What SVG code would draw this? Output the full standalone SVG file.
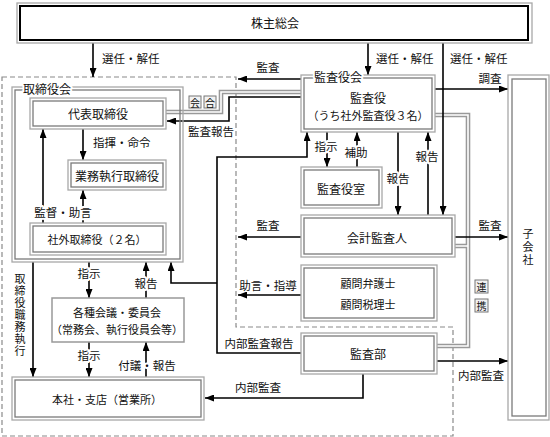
<svg xmlns="http://www.w3.org/2000/svg" width="550" height="437" viewBox="0 0 550 437">
<defs>
<style>
.bo{fill:none;stroke:#a8a8a8;stroke-width:1.3}
.bi{fill:none;stroke:#7a7a7a;stroke-width:1.3}
.ln{fill:none;stroke:#000;stroke-width:1.6}
.dash{fill:none;stroke:#8a8a8a;stroke-width:1.2;stroke-dasharray:5 3}
.g1{fill:none;stroke:#999;stroke-width:4.6}
.g2{fill:none;stroke:#fff;stroke-width:1.6}
text{font-family:"Noto Sans CJK JP","Noto Sans CJK SC",sans-serif;font-size:12px;fill:#111;text-anchor:middle;dominant-baseline:central}
.s{font-size:11px}
.l{font-size:11.5px}
.st{text-anchor:start}
.h{stroke:#fff;stroke-width:4;stroke-linejoin:round;paint-order:stroke}
.bx{fill:#f2f2f2;stroke:#777;stroke-width:1}
.bt{font-size:10px}
.v{writing-mode:vertical-rl;text-orientation:upright}
</style>
<marker id="ah" viewBox="0 0 9 7" refX="9" refY="3.5" markerWidth="9" markerHeight="7" markerUnits="userSpaceOnUse" orient="auto"><path d="M0,0 L9,3.5 L0,7 z" fill="#000"/></marker>
</defs>
<rect width="550" height="437" fill="#fff"/>

<path class="dash" d="M2,77 H236 V327 H453 V436 H2 Z"/>

<g id="connectors">
<path class="g1" d="M166,112 H221 V92 H301"/>
<path class="g2" d="M166,112 H221 V92 H301"/>
<path class="g1" d="M435,115 H468 V346 H437 M455,246 H468"/>
<path class="g2" d="M435,115 H468 V346 H437 M455,246 H468"/>
<path class="ln" d="M93,43 V77" marker-end="url(#ah)"/>
<path class="ln" d="M368,43 V75" marker-end="url(#ah)"/>
<path class="ln" d="M443,43 V215" marker-end="url(#ah)"/>
<path class="ln" d="M301,79 H238" marker-end="url(#ah)"/>
<path class="ln" d="M435,89 H508" marker-end="url(#ah)"/>
<path class="ln" d="M301,97 H229 V121 H167" marker-end="url(#ah)"/>
<path class="ln" d="M83,129 V160" marker-end="url(#ah)"/>
<path class="ln" d="M43,223 V129" marker-end="url(#ah)"/>
<path class="ln" d="M83,223 V190" marker-end="url(#ah)"/>
<path class="ln" d="M327,132 V167" marker-end="url(#ah)"/>
<path class="ln" d="M357,167 V132" marker-end="url(#ah)"/>
<path class="ln" d="M398,132 V215" marker-end="url(#ah)"/>
<path class="ln" d="M428,215 V132" marker-end="url(#ah)"/>
<path class="ln" d="M301,237 H238" marker-end="url(#ah)"/>
<path class="ln" d="M455,237 H508" marker-end="url(#ah)"/>
<path class="ln" d="M301,295 H238" marker-end="url(#ah)"/>
<path class="ln" d="M301,353 H217 V157 H307 V132" marker-end="url(#ah)"/>
<path class="ln" d="M217,283 H171 V262" marker-end="url(#ah)"/>
<path class="ln" d="M437,361 H508" marker-end="url(#ah)"/>
<path class="ln" d="M363,374 V398 H205" marker-end="url(#ah)"/>
<path class="ln" d="M89,262 V298" marker-end="url(#ah)"/>
<path class="ln" d="M146,298 V262" marker-end="url(#ah)"/>
<path class="ln" d="M89,342 V377" marker-end="url(#ah)"/>
<path class="ln" d="M146,377 V342" marker-end="url(#ah)"/>
<path class="ln" d="M33,262 V377" marker-end="url(#ah)"/>

<text class="l st" x="102" y="58">選任・解任</text>
<text class="l st" x="376" y="58">選任・解任</text>
<text class="l st" x="450" y="58">選任・解任</text>
<text class="l" x="268" y="67">監査</text>
<text class="l" x="490" y="78">調査</text>
<text class="l" x="211" y="131">監査報告</text>
<text class="l st" x="93" y="142">指揮・命令</text>
<text class="l h" x="63" y="212">監督・助言</text>
<text class="l h" x="326" y="146">指示</text>
<text class="l h" x="356" y="152">補助</text>
<text class="l h" x="398" y="178">報告</text>
<text class="l h" x="427" y="156">報告</text>
<text class="l" x="268" y="225">監査</text>
<text class="l" x="490" y="225">監査</text>
<text class="l" x="268" y="285">助言・指導</text>
<text class="l" x="259" y="343">内部監査報告</text>
<text class="l" x="481" y="375">内部監査</text>
<text class="l" x="258" y="387">内部監査</text>
<text class="l h" x="89" y="273">指示</text>
<text class="l h" x="146" y="283">報告</text>
<text class="l h" x="89" y="355">指示</text>
<text class="l h" x="147" y="365">付議・報告</text>
<text class="s v" x="20" y="315" letter-spacing="1">取締役職務執行</text>
<rect class="bx" x="189" y="96" width="12" height="12"/>
<rect class="bx" x="204" y="96" width="12" height="12"/>
<text class="bt" x="195" y="102">会</text>
<text class="bt" x="210" y="102">合</text>
<rect class="bx" x="475" y="280" width="13" height="13"/>
<rect class="bx" x="475" y="299" width="13" height="13"/>
<text class="bt" x="481.5" y="286.5">連</text>
<text class="bt" x="481.5" y="305.5">携</text>
</g>

<g id="kabunushi">
<rect x="17" y="3" width="515" height="40" class="bo"/>
<rect x="20" y="6" width="508" height="34" fill="none" stroke="#000" stroke-width="2"/>
<text x="275" y="22">株主総会</text>
</g>

<g id="torishimariyakukai">
<rect class="bo" x="12" y="87" width="171" height="175"/>
<rect class="bi" x="15" y="90" width="165" height="169"/>
<text class="h" x="47" y="88">取締役会</text>
</g>

<g id="daihyo">
<rect class="bo" x="30" y="98" width="136" height="31"/>
<rect class="bi" x="33" y="101" width="130" height="25"/>
<text x="98" y="113">代表取締役</text>
</g>

<g id="gyomu">
<rect class="bo" x="68" y="160" width="98" height="30"/>
<rect class="bi" x="71" y="163" width="92" height="24"/>
<text x="117" y="175">業務執行取締役</text>
</g>

<g id="shagai">
<rect class="bo" x="30" y="223" width="136" height="32"/>
<rect class="bi" x="33" y="226" width="130" height="26"/>
<text class="s" x="97" y="239">社外取締役（２名）</text>
</g>

<g id="kansayakukai">
<rect class="bo" x="301" y="75" width="134" height="57"/>
<rect class="bi" x="304" y="78" width="128" height="51"/>
<text class="h" x="338" y="76">監査役会</text>
<text x="368" y="97">監査役</text>
<text class="s" x="368" y="115">（うち社外監査役３名）</text>
</g>

<g id="kansayakushitsu">
<rect class="bo" x="301" y="167" width="81" height="41"/>
<rect class="bi" x="304" y="170" width="75" height="35"/>
<text x="341" y="188">監査役室</text>
</g>

<g id="kaikei">
<rect class="bo" x="301" y="215" width="154" height="42"/>
<rect class="bi" x="304" y="218" width="148" height="36"/>
<text x="377" y="237">会計監査人</text>
</g>

<g id="komon">
<rect class="bo" x="301" y="265" width="136" height="56"/>
<rect class="bi" x="304" y="268" width="130" height="50"/>
<text class="s" x="368" y="283">顧問弁護士</text>
<text class="s" x="368" y="304">顧問税理士</text>
</g>

<g id="kansabu">
<rect class="bo" x="301" y="333" width="136" height="41"/>
<rect class="bi" x="304" y="336" width="130" height="35"/>
<text x="368" y="353">監査部</text>
</g>

<g id="kaigi">
<rect x="52" y="298" width="132" height="44" fill="none" stroke="#999" stroke-width="1.5"/>
<text class="s" x="117" y="312">各種会議・委員会</text>
<text class="s" x="117" y="329">（常務会、執行役員会等）</text>
</g>

<g id="honsha">
<rect class="bo" x="12" y="377" width="192" height="43"/>
<rect class="bi" x="15" y="380" width="186" height="37"/>
<text class="s" x="107" y="399">本社・支店（営業所）</text>
</g>

<g id="kogaisha">
<rect class="bo" x="508" y="75" width="41" height="345"/>
<rect class="bi" x="512" y="79" width="34" height="337"/>
<text class="s v" x="528" y="248" letter-spacing="2">子会社</text>
</g>
</svg>
